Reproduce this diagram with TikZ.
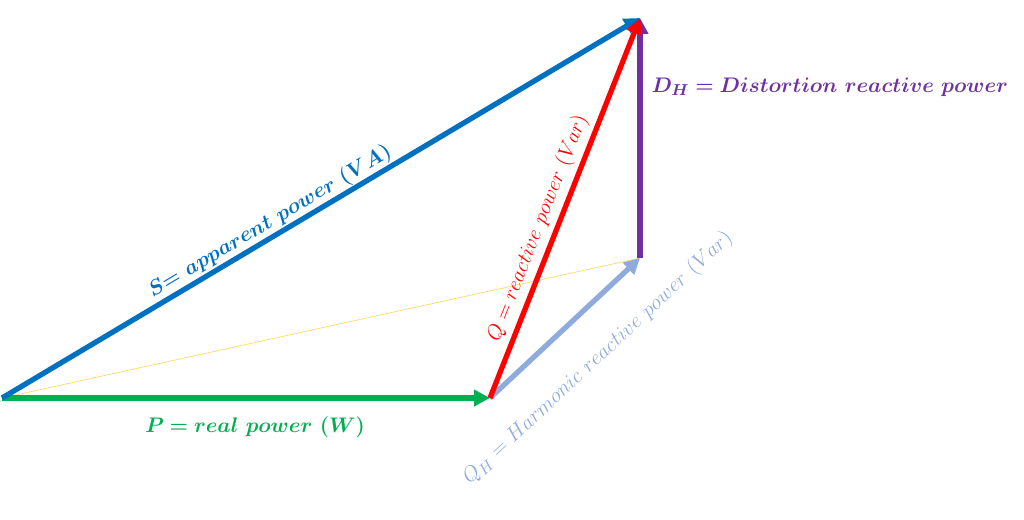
\documentclass[tikz,border=0pt]{standalone}
\usepackage{amsmath,bm}
\usepackage{xcolor}
\definecolor{S-blue}{RGB}{0, 112, 192}
\definecolor{P-green}{RGB}{0, 176, 80}
\definecolor{Q-red}{RGB}{255, 0, 0}
\definecolor{H-blue}{RGB}{143, 170, 220}
\definecolor{D-violet}{RGB}{112, 48, 160}
\definecolor{Y-gold}{RGB}{255, 217, 102}
\usetikzlibrary{arrows.meta,positioning,calc}

\begin{document}
\begin{tikzpicture} [ % styles
    >={Triangle[length=9pt,width=9pt]}, x=0.02cm, y=-0.02cm,
    vec/.style = {line width=3pt, ->},
    lab/.style = {font=\fontsize{13}{13}\selectfont, inner sep=1pt}
]
\useasboundingbox (0,0) rectangle (1024,520);

% corners
\coordinate (o) at (2,398);
\coordinate (p) at (490,398);
\coordinate (h) at (640,258);
\coordinate (t) at (640,18);

% vectors
\draw [Y-gold, thin] (o)--(h);
\draw [vec, P-green] (o)--(p);
\draw [vec, S-blue] (o)--(t);
\draw [vec, H-blue] (p)--(h);
\draw [vec, D-violet] (h)--(t);
\draw [vec, Q-red] (p)--(t);

% labels
\node [lab, P-green] (lp) at (255,427) {$\bm{P = real\ power\ (W)}$};
\node [lab, S-blue, rotate=30.8] (ls) at (270,222) {$\bm{S{=}\ apparent\ power\ (VA)}$};
\node [lab, Q-red, rotate=68.5] (lq) at (538,228) {$Q = reactive\ power\ (Var)$};
\node [lab, H-blue, rotate=43] (lh) at (598,358) {$Q_H = Harmonic\ reactive\ power\ (Var)$};
\node [lab, D-violet] (ld) at (830,87) {$\bm{D_H = Distortion\ reactive\ power}$};

\end{tikzpicture}
\end{document}
